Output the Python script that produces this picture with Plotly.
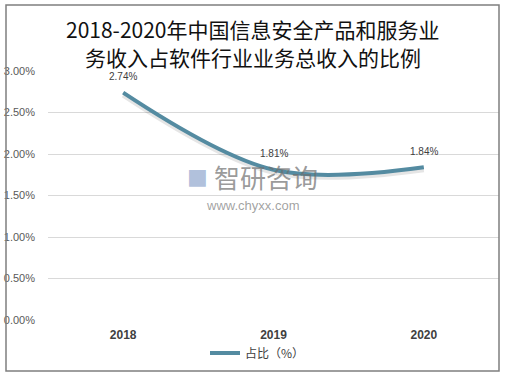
import plotly.graph_objects as go

years = ["2018", "2019", "2020"]
ratio = [2.74, 1.81, 1.84]
labels = ["2.74%", "1.81%", "1.84%"]
yticks = [0, 0.5, 1.0, 1.5, 2.0, 2.5, 3.0]
ytick_text = ["0.00%", "0.50%", "1.00%", "1.50%", "2.00%", "2.50%", "3.00%"]

W, H = 505, 376
L, R, T, B = 48, 6, 71, 56
pw, ph = W - L - R, H - T - B

def px(x):
    return (x - L) / pw

def py(y):
    return (H - B - y) / ph

line_color = "#548BA1"
fig = go.Figure()
# soft shadow
fig.add_trace(go.Scatter(
    x=years, y=[v - 0.03 for v in ratio], mode="lines",
    line=dict(color="rgba(0,0,0,0.10)", width=5, shape="spline", smoothing=1.0),
    hoverinfo="skip", showlegend=False))
fig.add_trace(go.Scatter(
    x=years, y=ratio, mode="lines", name="占比（%）",
    line=dict(color=line_color, width=4, shape="spline", smoothing=1.0)))

# data labels (category index positions on the x axis)
for i, (yv, t) in enumerate(zip(ratio, labels)):
    fig.add_annotation(x=i, y=yv, xref="x", yref="y", text=t, showarrow=False, yshift=16,
                       xanchor="center", yanchor="middle",
                       font=dict(size=10, color="#404040", family="Liberation Sans, Arial"))

fig.update_layout(
    width=W, height=H,
    margin=dict(l=L, r=R, t=T, b=B, autoexpand=False),
    paper_bgcolor="white", plot_bgcolor="white",
    showlegend=True,
    legend=dict(orientation="h", x=px(205), xanchor="left", y=py(353), yanchor="middle",
                font=dict(size=12, color="#404040", family="Noto Sans CJK SC"),
                bgcolor="rgba(0,0,0,0)"),
    xaxis=dict(type="category", range=[-0.5, 2.5], showgrid=False, zeroline=False, showline=False,
               tickfont=dict(size=12, color="#404040", family="Liberation Sans, Arial", weight="bold"),
               ticks="", ticklabelstandoff=6),
    yaxis=dict(range=[0, 3.0], tickvals=yticks, ticktext=ytick_text,
               showgrid=True, gridcolor="#D9D9D9", gridwidth=1, zeroline=False,
               showline=False,
               tickfont=dict(size=11, color="#595959", family="Liberation Sans, Arial"),
               ticklabelstandoff=12),
    font=dict(family="Noto Sans CJK SC"),
)

cx = 0.5 * (px(6) + px(499))
fig.add_annotation(xref="paper", yref="paper", x=cx, y=py(29),
                   text="2018-2020年中国信息安全产品和服务业", showarrow=False,
                   font=dict(size=21, color="#111111", family="Noto Sans CJK SC"),
                   xanchor="center", yanchor="middle")
fig.add_annotation(xref="paper", yref="paper", x=cx, y=py(57),
                   text="务收入占软件行业业务总收入的比例", showarrow=False,
                   font=dict(size=21, color="#111111", family="Noto Sans CJK SC"),
                   xanchor="center", yanchor="middle")

# watermark
fig.add_annotation(xref="paper", yref="paper", x=px(212), y=py(176),
                   text="智研咨询", showarrow=False, xanchor="left", yanchor="middle",
                   font=dict(size=26, color="rgba(110,110,110,0.7)", family="Noto Sans CJK SC"))
fig.add_annotation(xref="paper", yref="paper", x=px(185), y=py(176),
                   text="■", showarrow=False, xanchor="left", yanchor="middle",
                   font=dict(size=22, color="rgba(110,140,190,0.55)", family="DejaVu Sans"))
fig.add_annotation(xref="paper", yref="paper", x=px(252), y=py(205),
                   text="www.chyxx.com", showarrow=False, xanchor="center", yanchor="middle",
                   font=dict(size=13, color="rgba(120,120,120,0.7)", family="Liberation Sans"))

# outer border
fig.add_shape(type="rect", xref="paper", yref="paper",
              x0=px(6), x1=px(499), y0=py(371), y1=py(5),
              line=dict(color="#7F7F7F", width=1.5), fillcolor="rgba(0,0,0,0)")

fig.write_html("out.html", config={"displayModeBar": False},
               post_script="document.body.style.margin='0';")
